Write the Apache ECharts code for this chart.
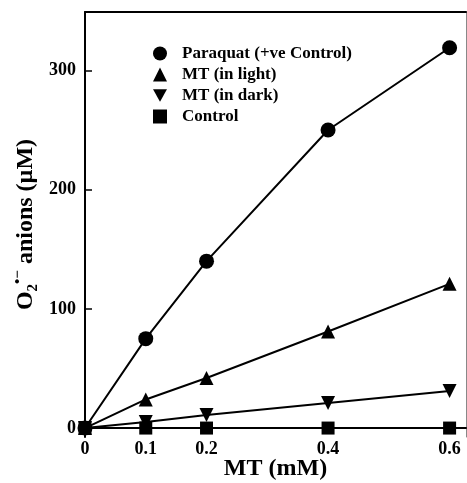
<!DOCTYPE html>
<html><head><meta charset="utf-8">
<script src="https://cdn.jsdelivr.net/npm/echarts@6/dist/echarts.min.js"></script>
<style>html,body{margin:0;padding:0;background:#fff}#c{width:467px;height:483px}</style>
</head><body><div id="c"></div>
<script>
const xValues = [0, 0.1, 0.2, 0.4, 0.6];
const paraquat = [0, 75, 140, 250, 319];
const mtLight = [0, 24, 42, 81, 121];
const mtDark = [0, 5, 11, 21, 31];
const control = [0, 0, 0, 0, 0];
const seriesNames = ['Paraquat (+ve Control)', 'MT (in light)', 'MT (in dark)', 'Control'];
const xTickLabels = [0, 0.1, 0.2, 0.4, 0.6];
const yTickLabels = [0, 100, 200, 300];

const FONT = '"Liberation Serif", "Times New Roman", serif';
const invTri = 'path://M0,0 L10,0 L5,9 Z';
function pts(arr){ return xValues.map((x,i)=>[x, arr[i]]); }
function mk(name, data, symbol, size){
  return {name, type:'line', data:pts(data), symbol, symbolSize:size,
    lineStyle:{color:'#000', width:2}, itemStyle:{color:'#000'}, z: 3, animation:false};
}
const chart = echarts.init(document.getElementById('c'));
chart.setOption({
  animation:false,
  grid:{left:85, right:1, top:12, bottom:46, outerBoundsMode:'none', containLabel:false},
  legend:{orient:'vertical', left:148, top:40, itemWidth:14, itemHeight:14, itemGap:4,
    data:[{name:seriesNames[0], icon:'circle'},{name:seriesNames[1], icon:'triangle'},
          {name:seriesNames[2], icon:invTri},{name:seriesNames[3], icon:'rect'}],
    textStyle:{fontFamily:FONT, fontWeight:'bold', fontSize:17, lineHeight:17, color:'#000', padding:[0,0,0,10]}},
  xAxis:[{type:'value', min:0, max:0.627, position:'bottom',
    name:'MT (mM)', nameLocation:'middle', nameGap:20, nameMoveOverlap:false,
    nameTextStyle:{fontFamily:FONT, fontWeight:'bold', fontSize:24, color:'#000'},
    axisLine:{lineStyle:{color:'#000', width:2}},
    axisTick:{show:false},
    splitLine:{show:false},
    axisLabel:{customValues:xTickLabels, fontFamily:FONT, fontWeight:'bold', fontSize:18, color:'#000', margin:3,
      formatter:v=>String(v)}},
    {type:'value', min:0, max:0.627, position:'top', axisLine:{show:true, onZero:false, lineStyle:{color:'#000', width:2}},
      axisTick:{show:false}, axisLabel:{show:false}, splitLine:{show:false}}],
  yAxis:[{type:'value', min:-7.5, max:349,
    name:'O{sub|2}{sup|•−} anions (µM)', nameLocation:'middle', nameGap:44, nameRotate:90, nameMoveOverlap:false,
    nameTextStyle:{fontFamily:FONT, fontWeight:'bold', fontSize:24, lineHeight:30, color:'#000',
      rich:{sub:{fontFamily:FONT, fontWeight:'bold', fontSize:15, verticalAlign:'bottom', lineHeight:15, color:'#000'},
            sup:{fontFamily:FONT, fontWeight:'bold', fontSize:15, verticalAlign:'top', lineHeight:15, color:'#000'}}},
    axisLine:{onZero:false, lineStyle:{color:'#000', width:2}},
    axisTick:{show:true, inside:true, length:7, customValues:yTickLabels, lineStyle:{color:'#000', width:1.5}},
    splitLine:{show:false},
    axisLabel:{customValues:yTickLabels, fontFamily:FONT, fontWeight:'bold', fontSize:18, color:'#000', margin:9}},
    {type:'value', min:-7.5, max:349, position:'right', axisLine:{show:true, onZero:false, lineStyle:{color:'#888', width:1}},
      axisTick:{show:false}, axisLabel:{show:false}, splitLine:{show:false}}],
  series:[
    mk(seriesNames[0], paraquat, 'circle', 15),
    mk(seriesNames[1], mtLight, 'triangle', 14),
    mk(seriesNames[2], mtDark, invTri, 14),
    mk(seriesNames[3], control, 'rect', 13)
  ]
});
</script></body></html>
